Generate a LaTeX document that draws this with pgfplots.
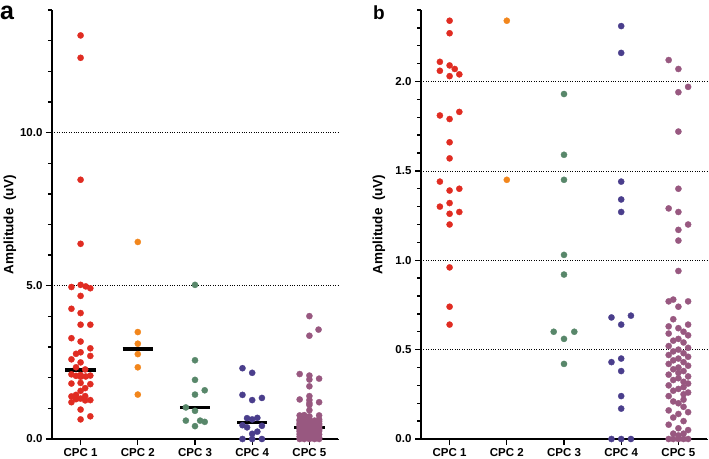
\documentclass[border=0pt]{standalone}
\usepackage{fontspec}
\setmainfont{Liberation Sans}
\usepackage{pgfplots}
\pgfplotsset{compat=1.18}
\usepackage{pgfplotstable}

\definecolor{c1}{RGB}{224,44,34}
\definecolor{c2}{RGB}{242,134,28}
\definecolor{c3}{RGB}{88,135,106}
\definecolor{c4}{RGB}{74,62,140}
\definecolor{c5}{RGB}{152,88,128}

% ---------- panel a data ----------
\pgfplotstableread{
x y
1.00 13.17
1.00 12.44
1.00 8.46
1.00 6.37
1.00 5.03
1.09 4.98
0.84 4.96
1.17 4.92
1.00 4.67
0.84 4.25
1.00 4.11
1.00 3.73
1.17 3.73
0.84 3.29
1.00 3.18
1.17 2.96
1.00 2.83
0.92 2.78
1.17 2.71
0.84 2.60
1.00 2.50
0.92 2.34
1.08 2.27
0.84 2.11
1.00 2.09
1.17 2.07
0.92 2.06
1.09 2.04
1.00 2.03
0.84 1.81
1.00 1.83
1.17 1.79
1.08 1.66
1.00 1.57
0.92 1.44
1.08 1.40
0.84 1.39
1.00 1.32
0.92 1.30
1.17 1.27
1.08 1.26
0.84 1.20
1.00 0.96
1.17 0.74
1.00 0.64
}\aone
\pgfplotstableread{
x y
2 6.43
2 3.49
2 3.11
2 2.77
2 2.34
2 1.45
}\atwo
\pgfplotstableread{
x y
3.00 5.03
3.00 2.57
3.00 1.93
3.17 1.59
3.00 1.45
2.84 1.03
3.00 0.92
2.84 0.60
3.09 0.60
3.17 0.56
3.00 0.42
}\athree
\pgfplotstableread{
x y
3.83 2.31
4.00 2.16
3.83 1.44
4.17 1.34
4.00 1.27
3.91 0.68
4.09 0.69
4.00 0.64
3.83 0.45
4.17 0.43
3.91 0.38
4.09 0.24
4.00 0.17
3.83 0.00
4.00 0.00
4.17 0.00
}\afour
\pgfplotstableread{
x y
5.00 4.01
5.16 3.57
5.00 3.37
}\afivetop

% ---------- panel b data ----------
\pgfplotstableread{
x y
1.00 2.34
1.00 2.27
0.83 2.11
1.00 2.09
1.09 2.07
0.83 2.06
1.17 2.04
1.00 2.03
1.17 1.83
0.83 1.81
1.00 1.79
1.00 1.66
1.00 1.57
0.83 1.44
1.00 1.39
1.17 1.40
1.00 1.32
0.83 1.30
1.17 1.27
1.00 1.26
1.00 1.20
1.00 0.96
1.00 0.74
1.00 0.64
}\bone
\pgfplotstableread{
x y
2 2.34
2 1.45
}\btwo
\pgfplotstableread{
x y
3.00 1.93
3.00 1.59
3.00 1.45
3.00 1.03
3.00 0.92
2.82 0.60
3.18 0.60
3.00 0.56
3.00 0.42
}\bthree
\pgfplotstableread{
x y
4.00 2.31
4.00 2.16
4.00 1.44
4.00 1.34
4.00 1.27
3.83 0.68
4.17 0.69
4.00 0.64
4.00 0.45
3.83 0.43
4.00 0.38
4.00 0.24
4.00 0.17
3.83 0.00
4.00 0.00
4.17 0.00
}\bfour
\pgfplotstableread{
x y
4.83 2.12
5.00 2.07
5.17 1.97
5.00 1.94
5.00 1.72
5.00 1.40
4.83 1.29
5.00 1.27
5.17 1.20
5.00 1.17
5.00 1.11
5.00 0.94
4.91 0.78
4.83 0.77
5.17 0.77
5.00 0.74
4.91 0.67
5.17 0.64
4.83 0.63
5.00 0.62
5.09 0.60
4.83 0.59
5.17 0.58
5.00 0.56
4.91 0.55
5.09 0.54
4.83 0.52
5.17 0.51
5.00 0.50
4.91 0.49
5.09 0.48
4.83 0.47
5.17 0.46
5.00 0.45
4.91 0.44
5.09 0.43
4.83 0.42
5.17 0.41
5.00 0.40
4.91 0.39
5.09 0.38
5.00 0.37
4.83 0.36
5.17 0.35
5.00 0.34
4.91 0.33
5.09 0.32
5.17 0.31
4.83 0.30
5.09 0.29
5.00 0.28
4.91 0.27
5.17 0.26
5.09 0.25
4.83 0.24
5.09 0.22
4.91 0.21
5.00 0.20
5.09 0.18
4.83 0.16
5.17 0.15
5.00 0.14
4.91 0.12
5.09 0.10
4.83 0.08
5.00 0.06
5.17 0.05
4.91 0.03
5.09 0.03
5.00 0.02
4.83 0.00
4.91 0.00
5.00 0.00
5.09 0.00
5.17 0.00
}\bfive

\pgfplotsset{
  panel/.style={
    scale only axis, width=286pt, height=429pt,
    axis lines*=left,
    axis line style={black, line width=1.6pt},
    xmin=0.5, xmax=5.5,
    xtick={1,2,3,4,5},
    xticklabels={CPC 1,CPC 2,CPC 3,CPC 4,CPC 5},
    tick align=outside,
    major tick length=6pt, minor tick length=4pt,
    tick style={black, line width=1.3pt},
    ymajorgrids,
    major grid style={black, dotted, line width=0.7pt},
    clip=false,
    /pgf/number format/assume math mode=true,
    ticklabel style={font=\bfseries\fontsize{11.5}{12}\selectfont},
    yticklabel style={/pgf/number format/fixed, /pgf/number format/fixed zerofill, /pgf/number format/precision=1},
    ylabel={Amplitude\ \ (uV)},
    ylabel style={font=\bfseries\fontsize{13.5}{14}\selectfont, at={(axis description cs:-0.147,0.5)}, anchor=center},
  },
  dots/.style={only marks, mark=*, mark size=3.1pt, color=#1, mark options={solid, fill=#1, line width=0.3pt}},
  med/.style={black, line width=3.2pt, forget plot},
}

\begin{document}
\begin{tikzpicture}[x=1pt,y=1pt]
\useasboundingbox (0,0) rectangle (709,458);

\begin{axis}[panel, at={(52pt,19pt)}, anchor=south west,
  ymin=0, ymax=14, ytick={0,5,10},
  minor ytick={1,2,3,4,6,7,8,9,11,12,13,14}]
  \addplot[dots=c1] table {\aone};
  \addplot[dots=c2] table {\atwo};
  \addplot[dots=c3] table {\athree};
  \addplot[dots=c4] table {\afour};
  \addplot[dots=c5] table {\bfive};
  \addplot[dots=c5] table {\afivetop};
  \addplot[med] coordinates {(0.735,2.25) (1.265,2.25)};
  \addplot[med] coordinates {(1.735,2.94) (2.265,2.94)};
  \addplot[med] coordinates {(2.735,1.02) (3.265,1.02)};
  \addplot[med] coordinates {(3.735,0.53) (4.265,0.53)};
  \addplot[med] coordinates {(4.735,0.38) (5.265,0.38)};
  \node[font=\bfseries\fontsize{25}{25}\selectfont, anchor=base west, inner sep=0pt]
    at (axis description cs:-0.182,0.977) {a};
\end{axis}

\begin{axis}[panel, at={(421pt,19pt)}, anchor=south west,
  ymin=0, ymax=2.4, ytick={0,0.5,1,1.5,2},
  minor ytick={0.1,0.2,0.3,0.4,0.6,0.7,0.8,0.9,1.1,1.2,1.3,1.4,1.6,1.7,1.8,1.9,2.1,2.2,2.3,2.4}]
  \addplot[dots=c1] table {\bone};
  \addplot[dots=c2] table {\btwo};
  \addplot[dots=c3] table {\bthree};
  \addplot[dots=c4] table {\bfour};
  \addplot[dots=c5] table {\bfive};
  \node[font=\bfseries\fontsize{19}{19}\selectfont, anchor=base west, inner sep=0pt]
    at (axis description cs:-0.168,0.979) {b};
\end{axis}
\end{tikzpicture}
\end{document}
